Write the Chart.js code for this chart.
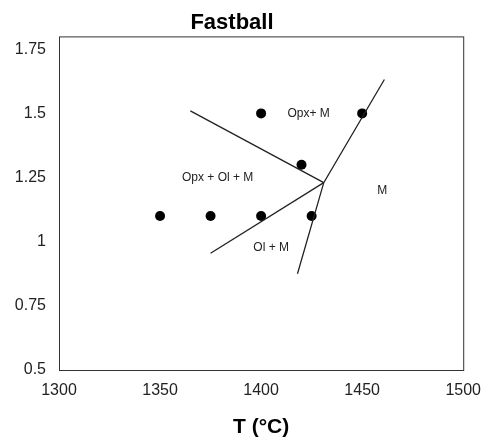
<!DOCTYPE html>
<html>
<head>
<meta charset="utf-8">
<script src="https://cdn.jsdelivr.net/npm/chart.js@4/dist/chart.umd.min.js"></script>
<style>
  html,body{margin:0;padding:0;background:#fff;}
  #wrap{width:492px;height:444px;}
</style>
</head>
<body>
<div id="wrap"><canvas id="c" width="492" height="444"></canvas></div>
<script>
// Experimental points (T in °C, P in GPa)
const pointT = [1400, 1450, 1420, 1350, 1375, 1400, 1425];
const pointP = [1.5, 1.5, 1.3, 1.1, 1.1, 1.1, 1.1];

// Phase boundaries
const opxBoundaryT = [1365, 1431];
const opxBoundaryP = [1.51, 1.23];
const olBoundaryT = [1375, 1431];
const olBoundaryP = [0.955, 1.23];
const liquidusT = [1418, 1431, 1461];
const liquidusP = [0.875, 1.23, 1.632];

// Field labels
const fieldNames = ["Opx+ M", "Opx + Ol + M", "M", "Ol + M"];
const fieldT = [1423.5, 1378.5, 1460, 1405];
const fieldP = [1.5, 1.25, 1.2, 0.975];

// Axis ticks
const xTicks = [1300, 1350, 1400, 1450, 1500];
const xTickLabels = ["1300", "1350", "1400", "1450", "1500"];
const yTicks = [0.5, 0.75, 1, 1.25, 1.5, 1.75];
const yTickLabels = ["0.5", "0.75", "1", "1.25", "1.5", "1.75"];

const toXY = (xs, ys) => xs.map((x, i) => ({x: x, y: ys[i]}));
const lineStyle = {showLine: true, pointRadius: 0, borderColor: '#222', borderWidth: 1.3, fill: false, tension: 0};

const frameAndLabels = {
  id: 'frameAndLabels',
  afterDatasetsDraw(chart) {
    const {ctx, chartArea: a, scales: {x, y}} = chart;
    ctx.save();
    ctx.strokeStyle = '#333';
    ctx.lineWidth = 1;
    ctx.strokeRect(a.left + 0.5, a.top + 0.5, a.right - a.left, a.bottom - a.top);
    ctx.fillStyle = '#222';
    ctx.font = '12px "Liberation Sans", Arial, sans-serif';
    ctx.textAlign = 'center';
    ctx.textBaseline = 'middle';
    fieldNames.forEach((n, i) => {
      ctx.fillText(n, x.getPixelForValue(fieldT[i]), y.getPixelForValue(fieldP[i]));
    });
    ctx.restore();
  }
};

new Chart(document.getElementById('c'), {
  type: 'scatter',
  data: {
    datasets: [
      Object.assign({data: toXY(opxBoundaryT, opxBoundaryP)}, lineStyle),
      Object.assign({data: toXY(olBoundaryT, olBoundaryP)}, lineStyle),
      Object.assign({data: toXY(liquidusT, liquidusP)}, lineStyle),
      {data: toXY(pointT, pointP), pointRadius: 5, pointBackgroundColor: '#000', pointBorderColor: '#000', pointBorderWidth: 0, showLine: false}
    ]
  },
  options: {
    responsive: false,
    animation: false,
    layout: {padding: {left: 0, right: 28, top: 0, bottom: 0}},
    plugins: {
      legend: {display: false},
      tooltip: {enabled: false},
      title: {
        display: true, text: 'Fastball', color: '#000',
        font: {family: '"Liberation Sans", Arial, sans-serif', size: 22, weight: 'bold'},
        padding: {top: 10, bottom: 0}
      }
    },
    scales: {
      x: {
        type: 'linear', min: 1300, max: 1500,
        grid: {display: false, drawTicks: false},
        border: {display: false},
        afterBuildTicks: s => { s.ticks = xTicks.map(v => ({value: v})); },
        afterFit: s => { s.height = 74; },
        ticks: {color: '#222', padding: 11, font: {family: '"Liberation Sans", Arial, sans-serif', size: 16},
          callback: (v) => { const i = xTicks.indexOf(v); return i >= 0 ? xTickLabels[i] : ''; }},
        title: {display: true, text: 'T (°C)', color: '#000', padding: {top: 4, bottom: 4},
          font: {family: '"Liberation Sans", Arial, sans-serif', size: 21, weight: 'bold'}}
      },
      y: {
        type: 'linear', min: 0.5, max: 1.8,
        grid: {display: false, drawTicks: false},
        border: {display: false},
        afterBuildTicks: s => { s.ticks = yTicks.map(v => ({value: v})); },
        afterFit: s => { s.width = 59; },
        ticks: {color: '#222', padding: 13, font: {family: '"Liberation Sans", Arial, sans-serif', size: 16},
          callback: (v) => { const i = yTicks.indexOf(v); return i >= 0 ? yTickLabels[i] : ''; }}
      }
    }
  },
  plugins: [frameAndLabels]
});
</script>
</body>
</html>
